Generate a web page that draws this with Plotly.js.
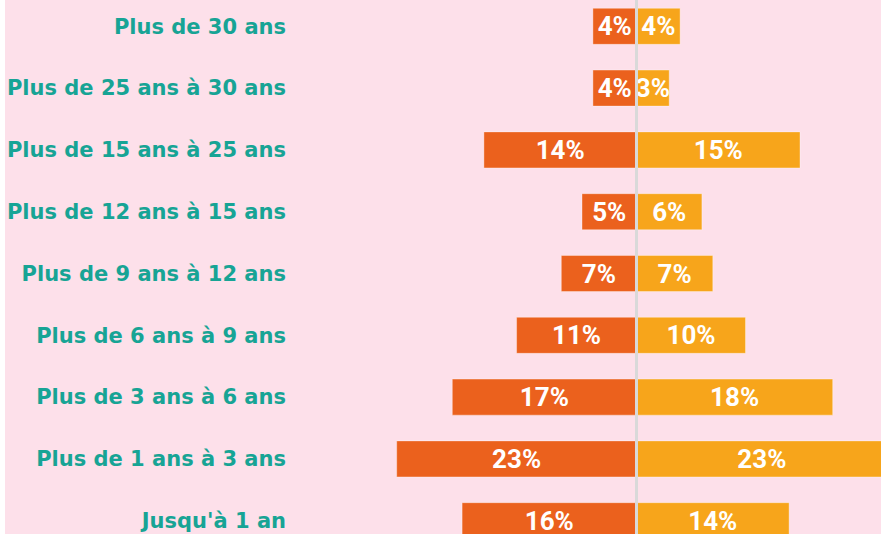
<!DOCTYPE html>
<html>
<head>
<meta charset="utf-8">
<script src="https://cdn.plot.ly/plotly-3.0.1.min.js"></script>
<style>
html,body{margin:0;padding:0;background:#fde0ea;}
#chart{width:881px;height:534px;}
</style>
</head>
<body>
<div id="chart"></div>
<script>
// Categories, top to bottom
var categories = [
  "Plus de 30 ans",
  "Plus de 25 ans à 30 ans",
  "Plus de 15 ans à 25 ans",
  "Plus de 12 ans à 15 ans",
  "Plus de 9 ans à 12 ans",
  "Plus de 6 ans à 9 ans",
  "Plus de 3 ans à 6 ans",
  "Plus de 1 ans à 3 ans",
  "Jusqu'à 1 an"
];
// Left series (orange-red)
var leftValues = [4, 4, 14, 5, 6.9, 11, 16.9, 22, 16];
var leftLabels = ["4%", "4%", "14%", "5%", "7%", "11%", "17%", "23%", "16%"];
// Right series (yellow-orange)
var rightValues = [4, 3, 15, 6, 7, 10, 18, 23, 14];
var rightLabels = ["4%", "3%", "15%", "6%", "7%", "10%", "18%", "23%", "14%"];

var leftColor = "#eb611d";
var rightColor = "#f7a51b";
var labelColor = "#17a495";
var bgColor = "#fde0ea";

var leftX = leftValues.map(function (v) { return -v; });

var textFont = {family: "Roboto, sans-serif", size: 26, color: "#ffffff", weight: 700};

var traceLeft = {
  type: "bar",
  orientation: "h",
  y: categories,
  x: leftX,
  text: leftLabels,
  textposition: "inside",
  insidetextanchor: "middle",
  textangle: 0,
  constraintext: "none",
  cliponaxis: true,
  textfont: textFont,
  insidetextfont: textFont,
  marker: {color: leftColor, line: {color: "rgba(255,255,255,0.35)", width: 1}},
  width: 0.583,
  hoverinfo: "skip"
};
var traceRight = {
  type: "bar",
  orientation: "h",
  y: categories,
  x: rightValues,
  text: rightLabels,
  textposition: "inside",
  insidetextanchor: "middle",
  textangle: 0,
  constraintext: "none",
  cliponaxis: true,
  textfont: textFont,
  insidetextfont: textFont,
  marker: {color: rightColor, line: {color: "rgba(255,255,255,0.35)", width: 1}},
  width: 0.583,
  hoverinfo: "skip"
};

var L = 291, W = 881, center = 636.5, pxPer = 10.9;
var plotW = W - L;

var layout = {
  width: 881,
  height: 534,
  margin: {l: L, r: 0, t: 0, b: 0, pad: 0},
  paper_bgcolor: bgColor,
  plot_bgcolor: bgColor,
  barmode: "overlay",
  showlegend: false,
  xaxis: {
    range: [-(center - L) / pxPer, (W - center) / pxPer],
    showgrid: false, zeroline: false, showticklabels: false, showline: false, ticks: "",
    fixedrange: true
  },
  yaxis: {
    type: "category",
    categoryorder: "array",
    categoryarray: categories,
    range: [8.215, -0.4256],
    showgrid: false, zeroline: false, showline: false, ticks: "",
    tickfont: {family: "DejaVu Sans, sans-serif", size: 21, color: labelColor, weight: 700},
    ticklabelstandoff: 4,
    fixedrange: true
  },
  shapes: [
    {type: "line", xref: "x", yref: "paper", x0: 0, x1: 0, y0: 0, y1: 1,
     line: {color: "#d9d9d9", width: 3}, layer: "above"},
    {type: "rect", xref: "paper", yref: "paper", x0: -L / plotW, x1: -(L - 5) / plotW, y0: 0, y1: 1,
     fillcolor: "#ffffff", line: {width: 0}, layer: "below"}
  ]
};

Plotly.newPlot("chart", [traceLeft, traceRight], layout, {displayModeBar: false, staticPlot: true});
</script>
</body>
</html>
